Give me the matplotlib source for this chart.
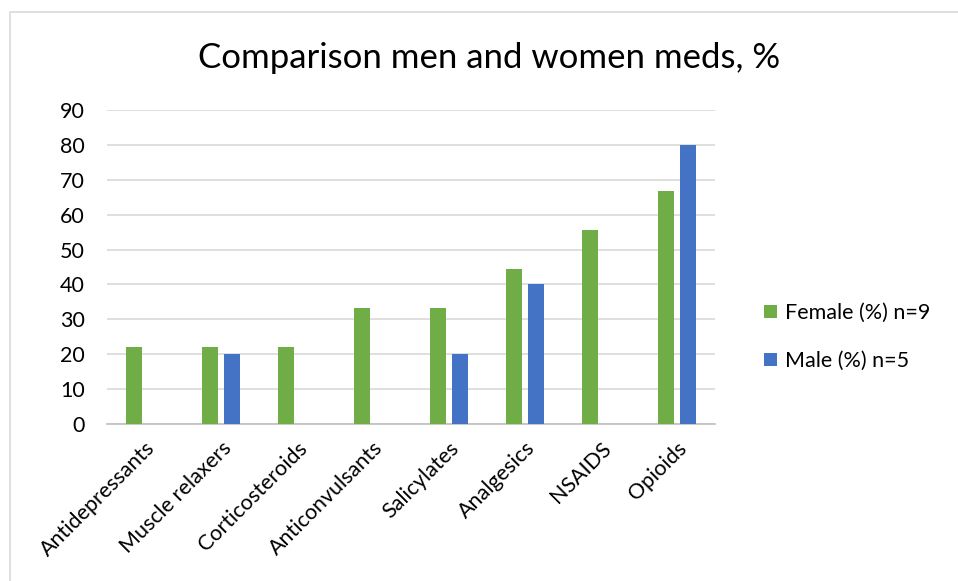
import matplotlib
matplotlib.use('Agg')
import matplotlib.pyplot as plt
from matplotlib.patches import Rectangle
import numpy as np

# ===== DATA =====
categories = ['Antidepressants', 'Muscle relaxers', 'Corticosteroids', 'Anticonvulsants',
              'Salicylates', 'Analgesics', 'NSAIDS', 'Opioids']
female_pct = [22.2, 22.2, 22.2, 33.3, 33.3, 44.4, 55.6, 66.7]
male_pct = [0, 20, 0, 0, 20, 40, 0, 80]
yticks = list(range(0, 100, 10))

plt.rcParams['font.family'] = ['Lato', 'DejaVu Sans']

fig = plt.figure(figsize=(9.58, 5.81), dpi=100)
ax = fig.add_axes([0.112, 0.270, 0.634, 0.541])

# outer chart frame
fig.patches.append(Rectangle((10 / 958, -0.05), 1.0, 1 - 12 / 581 + 0.05,
                             transform=fig.transFigure, fill=False,
                             edgecolor='#d9d9d9', linewidth=1.2))

x = np.arange(len(categories))
w = 0.21
ax.bar(x - 0.145, female_pct, w, color='#70ad47', label='Female (%) n=9', zorder=3)
ax.bar(x + 0.145, male_pct, w, color='#4472c4', label='Male (%) n=5', zorder=3)

ax.set_xlim(-0.5, len(categories) - 0.5)
ax.set_ylim(0, 90)
ax.set_yticks(yticks)
ax.yaxis.grid(True, color='#d9d9d9', linewidth=1.2, zorder=0)
ax.set_axisbelow(True)
for s in ['top', 'right', 'left']:
    ax.spines[s].set_visible(False)
ax.spines['bottom'].set_color('#bfbfbf')
ax.spines['bottom'].set_linewidth(1.2)
ax.tick_params(length=0, labelsize=15.5, labelcolor='#000000')
ax.tick_params(axis='y', pad=16)
ax.set_xticks(x)
ax.set_xticklabels(categories, rotation=45, ha='right', rotation_mode='anchor')
ax.tick_params(axis='x', pad=10)

fig.text(0.51, 0.9, 'Comparison men and women meds, %', ha='center', va='center', fontsize=25)

fig.legend(loc='center left', bbox_to_anchor=(0.777, 0.42), frameon=False,
           fontsize=15.5, handlelength=0.6, handleheight=0.6, handletextpad=0.4,
           labelspacing=1.3)

fig.savefig('out.png', dpi=100)
